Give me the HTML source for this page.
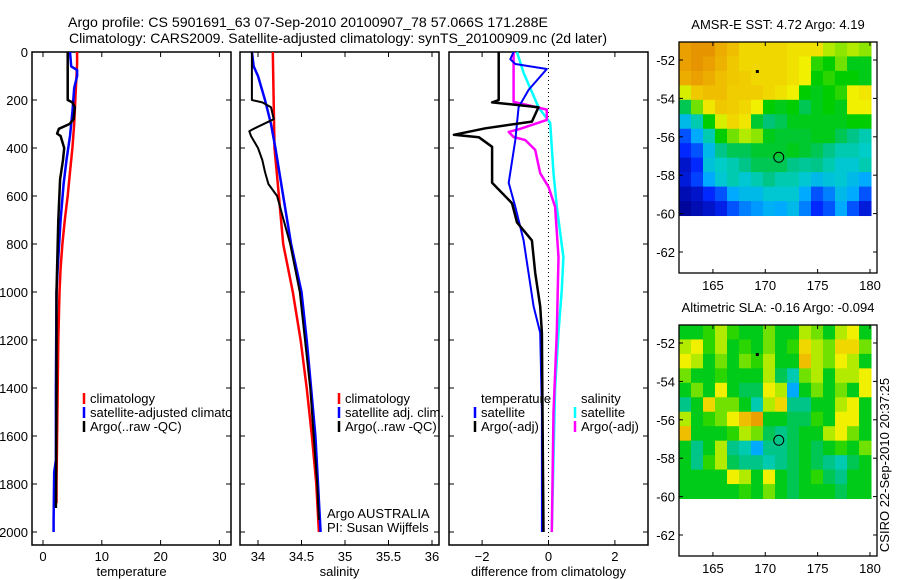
<!DOCTYPE html>
<html><head><meta charset="utf-8"><style>
html,body{margin:0;padding:0;background:#fff;}
svg{display:block;font-family:"Liberation Sans",sans-serif;}
</style></head><body>
<svg id="fig" width="900" height="580" xmlns="http://www.w3.org/2000/svg">
<defs><clipPath id="p1clip"><rect x="32" y="52" width="199" height="493"/></clipPath></defs>
<text x="68" y="27" font-size="14" textLength="480" lengthAdjust="spacingAndGlyphs">Argo profile: CS 5901691_63 07-Sep-2010 20100907_78 57.066S 171.288E</text>
<text x="69" y="43" font-size="14" textLength="538" lengthAdjust="spacingAndGlyphs">Climatology: CARS2009. Satellite-adjusted climatology: synTS_20100909.nc (2d later)</text>
<g id="root"></g>
</svg>
<script>
// ---------- DATA ----------
const depthTicks = [0,200,400,600,800,1000,1200,1400,1600,1800,2000];
const tempTicks = [0,10,20,30];
const salTicks = [34,34.5,35,35.5,36];
const salTickLabels = ["34","34.5","35","35.5","36"];
const diffTicks = [-2,0,2];

const tempClimDepth = [0,50,100,200,300,400,500,600,700,800,900,1000,1200,1400,1600,1800,1880];
const tempClim = [5.8,5.8,5.7,5.5,5.3,5.0,4.6,4.2,3.7,3.3,3.0,2.8,2.6,2.5,2.4,2.3,2.3];
const tempSatDepth = [0,60,75,100,150,250,350,450,550,700,900,1000,1400,1700,1750,1950,2000];
const tempSat = [4.6,4.8,5.8,5.8,5.3,5.0,4.6,4.0,3.5,3.0,2.5,2.3,2.2,2.2,1.9,1.8,1.8];
const tempArgoDepth = [0,200,210,230,280,300,320,340,350,400,450,500,530,700,1000,1400,1900];
const tempArgo = [4.2,4.2,5.0,5.4,5.2,4.5,2.7,2.4,3.0,3.6,3.4,3.1,2.9,2.6,2.3,2.3,2.2];

const salClimDepth = [0,400,600,800,1000,1200,1400,1600,1800,2000];
const salClim = [34.17,34.19,34.24,34.29,34.40,34.49,34.56,34.62,34.67,34.70];
const salSatDepth = [0,60,100,200,300,400,600,800,1000,1200,1400,1600,1800,2000];
const salSat = [33.93,33.95,34.0,34.08,34.15,34.2,34.29,34.38,34.5,34.56,34.61,34.66,34.69,34.72];
const salArgoDepth = [0,200,210,230,280,320,330,350,400,450,500,550,600,800,1000,1400,1800,1950];
const salArgo = [33.93,33.93,34.05,34.15,34.18,33.95,33.9,33.92,34.0,34.05,34.08,34.12,34.22,34.37,34.48,34.6,34.68,34.7];

const dTempSatDepth = [0,30,50,71,158,230,367,545,645,785,1060,1170,1500,2000];
const dTempSat = [-1.05,-1.15,-1.0,-0.05,-0.6,-0.9,-1.0,-1.2,-1.0,-0.75,-0.45,-0.25,-0.2,-0.2];
const dTempArgoDepth = [0,200,210,230,290,318,345,355,395,545,630,710,785,920,1060,1170,1500,2000];
const dTempArgo = [-1.5,-1.5,-1.7,-0.3,-0.5,-1.9,-2.85,-2.1,-1.7,-1.7,-1.1,-0.95,-0.5,-0.4,-0.25,-0.2,-0.18,-0.15];
const dSalSatDepth = [0,87,230,296,505,645,855,990,1170,1400,2000];
const dSalSat = [-0.95,-0.75,-0.3,0.05,0.15,0.25,0.45,0.4,0.3,0.2,0.1];
const dSalArgoDepth = [0,208,240,283,320,333,354,367,408,505,562,645,855,1170,1500,2000];
const dSalArgo = [-1.05,-1.05,-0.05,-0.05,-0.85,-1.2,-1.05,-0.7,-0.4,-0.25,0,0.2,0.3,0.25,0.15,0.1];

const lonTicks = [165,170,175,180];
const latTicks = [-52,-54,-56,-58,-60,-62];
const sstGrid = [
[.95,.97,.97,.93,.9,.85,.85,.85,.85,.83,.83,.83,.75,.72,.75,.72],
[.95,.97,.95,.92,.88,.85,.85,.85,.85,.83,.8,.65,.62,.7,.6,.6],
[.93,.95,.93,.9,.88,.87,.85,.85,.85,.83,.8,.62,.65,.62,.62,.6],
[.78,.88,.9,.9,.87,.87,.87,.85,.83,.8,.62,.6,.62,.65,.8,.82],
[.55,.7,.82,.88,.87,.85,.8,.62,.6,.62,.55,.6,.62,.6,.8,.8],
[.35,.45,.62,.78,.85,.82,.58,.52,.55,.6,.6,.6,.6,.6,.62,.62],
[.2,.3,.45,.62,.7,.75,.72,.6,.58,.58,.58,.6,.6,.55,.5,.45],
[.15,.2,.35,.5,.55,.55,.58,.58,.58,.6,.58,.55,.5,.45,.45,.42],
[.08,.15,.38,.42,.45,.5,.55,.55,.55,.5,.48,.5,.45,.4,.4,.45],
[.1,.18,.3,.4,.45,.4,.45,.5,.45,.45,.4,.35,.38,.4,.35,.3],
[.05,.08,.15,.2,.3,.35,.35,.4,.4,.4,.3,.2,.25,.35,.3,.2],
[.02,.05,.08,.12,.2,.25,.28,.32,.3,.35,.25,.15,.2,.3,.2,.1]];
const slaGrid = [
[.6,.6,.65,.75,.65,.6,.6,.7,.6,.6,.75,.7,.6,.75,.8,.6],
[.75,.8,.65,.75,.6,.65,.6,.7,.6,.65,.85,.75,.7,.85,.85,.7],
[.8,.75,.6,.7,.6,.7,.65,.75,.6,.6,.9,.75,.7,.8,.75,.6],
[.7,.6,.6,.65,.6,.6,.6,.75,.55,.45,.7,.75,.6,.75,.75,.8],
[.6,.7,.6,.8,.6,.55,.55,.8,.75,.3,.6,.7,.6,.7,.6,.8],
[.5,.6,.85,.7,.7,.6,.45,.75,.85,.5,.5,.6,.6,.75,.8,.6],
[.75,.6,.65,.7,.8,.9,.95,.6,.6,.55,.55,.65,.6,.8,.8,.6],
[.9,.6,.6,.6,.65,.75,.7,.55,.5,.55,.6,.6,.75,.8,.7,.6],
[.6,.5,.6,.75,.5,.45,.3,.5,.5,.55,.6,.55,.6,.65,.6,.7],
[.6,.5,.65,.75,.55,.5,.5,.45,.5,.55,.6,.55,.5,.45,.55,.6],
[.6,.6,.6,.6,.8,.75,.6,.8,.6,.55,.6,.65,.55,.5,.6,.6],
[.6,.6,.6,.6,.6,.65,.6,.7,.6,.55,.6,.6,.6,.55,.6,.6]];
const argoLon = [171.288];
const argoLat = [-57.066];

// ---------- HELPERS ----------
const NS="http://www.w3.org/2000/svg";
const root=document.getElementById('root');
function mk(tag,attrs,parent){const e=document.createElementNS(NS,tag);for(const k in attrs)e.setAttribute(k,attrs[k]);(parent||root).appendChild(e);return e;}
const yTop=52,yPerM=0.24;
const yD=d=>yTop+d*yPerM;
const panels=[
 {x0:32,x1:231,xOf:v=>43+v*5.88,ticks:tempTicks,labels:tempTicks.map(String),title:"temperature",name:"temperature"},
 {x0:240,x1:439,xOf:v=>258+(v-34)*87,ticks:salTicks,labels:salTickLabels,title:"salinity",name:"salinity"},
 {x0:449,x1:648,xOf:v=>548.5+v*33.2,ticks:diffTicks,labels:diffTicks.map(v=>v<0?"−"+(-v):String(v)),title:"difference from climatology",name:"difference"}];
const yBot=545;

depthTicks.forEach(d=>{
 const t=mk('text',{x:28,y:yD(d)+5,'font-size':13,'text-anchor':'end'});
 t.textContent=d;
 
 
});

panels.forEach(p=>{
 const g=mk('g',{});
 
 
 const r=mk('rect',{x:p.x0,y:yTop,width:p.x1-p.x0,height:yBot-yTop,fill:'none',stroke:'#000','stroke-width':1.5},g);
 
 
 depthTicks.forEach(d=>{
  mk('line',{x1:p.x0,x2:p.x0+5,y1:yD(d),y2:yD(d),stroke:'#000'},g);
  mk('line',{x1:p.x1,x2:p.x1-5,y1:yD(d),y2:yD(d),stroke:'#000'},g);
 });
 p.ticks.forEach((v,i)=>{
  const x=p.xOf(v);
  mk('line',{x1:x,x2:x,y1:yTop,y2:yTop+5,stroke:'#000'},g);
  mk('line',{x1:x,x2:x,y1:yBot,y2:yBot-5,stroke:'#000'},g);
  const t=mk('text',{x:x,y:561,'font-size':13,'text-anchor':'middle'},g);
  t.textContent=p.labels[i];
  
  
 });
 const tt=mk('text',{x:(p.x0+p.x1)/2,y:576,'font-size':13,'text-anchor':'middle'},g);
 tt.textContent=p.title;
 
 
});

function line(pi,depths,vals,color,w,name){
 const p=panels[pi];
 const pts=depths.map((d,i)=>p.xOf(vals[i]).toFixed(1)+','+yD(d).toFixed(1)).join(' ');
 const e=mk('polyline',{points:pts,fill:'none',stroke:color,'stroke-width':w,'stroke-linejoin':'round'});
 
 
}
const zl=mk('line',{x1:panels[2].xOf(0),x2:panels[2].xOf(0),y1:yTop,y2:yBot,stroke:'#000','stroke-dasharray':'1,3'});



line(0,tempClimDepth,tempClim,'#ff0000',2.5,'temp-climatology-line');
line(0,tempSatDepth,tempSat,'#0000ff',2.5,'temp-satellite-line');
line(0,tempArgoDepth,tempArgo,'#000',2.5,'temp-argo-line');
line(1,salClimDepth,salClim,'#ff0000',2.5,'sal-climatology-line');
line(1,salSatDepth,salSat,'#0000ff',2.5,'sal-satellite-line');
line(1,salArgoDepth,salArgo,'#000',2,'sal-argo-line');
line(2,dSalSatDepth,dSalSat,'#00ffff',2.5,'diff-sal-satellite-line');
line(2,dSalArgoDepth,dSalArgo,'#ff00ff',2.5,'diff-sal-argo-line');
line(2,dTempSatDepth,dTempSat,'#0000ff',2,'diff-temp-satellite-line');
line(2,dTempArgoDepth,dTempArgo,'#000',2.5,'diff-temp-argo-line');

const p1legend=mk('g',{'clip-path':'url(#p1clip)'});


function legend(x,y,color,label,name,parent){
 if(color){mk('line',{x1:x,x2:x,y1:y-10,y2:y+1,stroke:color,'stroke-width':2.5},parent);}
 const t=mk('text',{x:x+6,y:y,'font-size':13},parent);
 t.textContent=label;
 
 
}
legend(84,403,'#ff0000','climatology','legend-climatology',p1legend);
legend(84,417,'#0000ff','satellite-adjusted climatology','legend-satellite-adjusted',p1legend);
legend(84,431,'#000','Argo(..raw -QC)','legend-argo',p1legend);
legend(339,403,'#ff0000','climatology','legend-sal-climatology');
legend(339,417,'#0000ff','satellite adj. clim.','legend-sal-satellite');
legend(339,431,'#000','Argo(..raw -QC)','legend-sal-argo');
legend(475,403,null,'temperature','legend-temp-header');
legend(475,417,'#0000ff','satellite','legend-diff-temp-satellite');
legend(475,431,'#000','Argo(-adj)','legend-diff-temp-argo');
legend(575,403,null,'salinity','legend-sal-header');
legend(575,417,'#00ffff','satellite','legend-diff-sal-satellite');
legend(575,431,'#ff00ff','Argo(-adj)','legend-diff-sal-argo');
legend(321,518,null,'Argo AUSTRALIA','credit-line-1');
legend(321,532,null,'PI: Susan Wijffels','credit-line-2');

// ---------- MAPS ----------
const cStops=[[0,[0,0,140]],[0.15,[0,40,255]],[0.3,[0,170,255]],[0.42,[0,205,200]],[0.52,[0,195,120]],[0.62,[0,205,0]],[0.72,[140,230,0]],[0.8,[240,240,0]],[0.9,[240,190,0]],[1,[225,130,0]]];
function cmap(v){for(let i=1;i<cStops.length;i++){if(v<=cStops[i][0]){const a=cStops[i-1],b=cStops[i],t=(v-a[0])/(b[0]-a[0]);const c=a[1].map((x,k)=>Math.round(x+(b[1][k]-x)*t));return 'rgb('+c.join(',')+')';}}return 'rgb(225,130,0)';}
function drawMap(top,grid,title,name){
 const x0=679,x1=877,y0=top,y1=top+231;
 const lonX=l=>679+(l-161.76)*10.47;
 const latY=la=>top+18+(-52-la)*19.2;
 const g=mk('g',{});
 
 
 const rows=grid.length,cols=grid[0].length;
 const lonA=161.76,lonB=180.1,latA=-51.06,latB=-60.1;
 grid.forEach((row,r)=>row.forEach((v,c)=>{
  const xa=lonX(lonA+(lonB-lonA)*c/cols),xb=lonX(lonA+(lonB-lonA)*(c+1)/cols);
  const ya=latY(latA+(latB-latA)*r/rows),yb=latY(latA+(latB-latA)*(r+1)/rows);
  const cell=mk('rect',{x:xa,y:ya,width:xb-xa+0.5,height:yb-ya+0.5,fill:cmap(v)},g);
  
  
 }));
 mk('rect',{x:lonX(169.1),y:latY(-52.6)-1.5,width:3,height:3,fill:'#000'},g);
 argoLon.forEach((lo,i)=>{
  const c=mk('circle',{cx:lonX(lo),cy:latY(argoLat[i]),r:5,fill:'none',stroke:'#000','stroke-width':1},g);
  
  
 });
 mk('rect',{x:x0,y:y0,width:x1-x0,height:y1-y0,fill:'none',stroke:'#000','stroke-width':1.3},g);
 lonTicks.forEach(l=>{
  const x=lonX(l);
  mk('line',{x1:x,x2:x,y1:y0,y2:y0+4,stroke:'#000'},g);
  mk('line',{x1:x,x2:x,y1:y1,y2:y1-4,stroke:'#000'},g);
  const t=mk('text',{x:x,y:y1+17,'font-size':13,'text-anchor':'middle'},g);
  t.textContent=l;
  
  
 });
 latTicks.forEach(la=>{
  const y=latY(la);
  mk('line',{x1:x0,x2:x0+4,y1:y,y2:y,stroke:'#000'},g);
  mk('line',{x1:x1,x2:x1-4,y1:y,y2:y,stroke:'#000'},g);
  const t=mk('text',{x:x0-4,y:y+5,'font-size':13,'text-anchor':'end'},g);
  t.textContent=String(la);
  
  
 });
 const tt=mk('text',{x:(x0+x1)/2,y:top-13,'font-size':13,'text-anchor':'middle'},g);
 tt.textContent=title;
 
 
}
drawMap(42,sstGrid,'AMSR-E SST: 4.72 Argo: 4.19','sst-map');
drawMap(325,slaGrid,'Altimetric SLA: -0.16 Argo: -0.094','sla-map');
const cs=mk('text',{x:0,y:0,'font-size':13,'text-anchor':'middle',transform:'translate(889,465) rotate(-90)'});
cs.textContent='CSIRO 22-Sep-2010 20:37:25';


</script>
</body></html>
